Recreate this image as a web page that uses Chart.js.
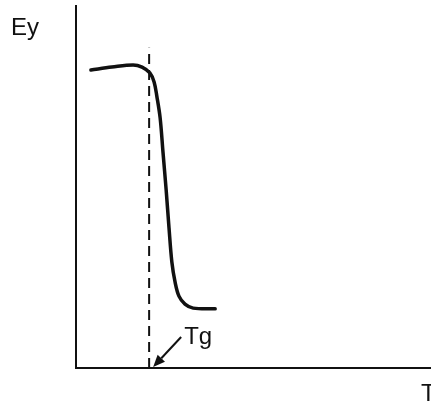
<!DOCTYPE html>
<html>
<head>
<meta charset="utf-8">
<script src="https://cdn.jsdelivr.net/npm/chart.js@4/dist/chart.umd.min.js"></script>
<style>
  html, body { margin: 0; padding: 0; background: #fff; }
  #wrap { width: 431px; height: 406px; }
</style>
</head>
<body>
<div id="wrap"><canvas id="c" width="431" height="406"></canvas></div>
<script>
// Young's modulus (Ey) versus temperature (T), arbitrary units 0–100
const temperature = [4.2, 10.1, 16.1, 18.6, 20.8, 22.0, 22.8, 23.7, 24.5, 25.4, 26.2, 27.0, 27.9, 29.0, 30.7, 33.0, 39.2];
const modulus     = [82.1, 82.9, 83.5, 82.9, 81.3, 78.8, 74.7, 68.9, 59.5, 49.0, 38.6, 29.2, 23.7, 19.8, 17.6, 16.5, 16.3];

// Glass transition temperature marker
const tgValue = 20.6;
const tgLineTop = 88.2;
const tgLabel = 'Tg';
const yTitle = 'Ey';
const xTitle = 'T';

const FONT = '24px "Liberation Sans", Arial, sans-serif';

const annotate = {
  id: 'annotate',
  afterDatasetsDraw(chart) {
    const { ctx, chartArea: a, scales: { x, y } } = chart;
    ctx.save();
    ctx.strokeStyle = '#111';
    ctx.fillStyle = '#111';

    // axes
    ctx.lineWidth = 2;
    ctx.beginPath();
    ctx.moveTo(a.left, a.top);
    ctx.lineTo(a.left, a.bottom);
    ctx.lineTo(a.right, a.bottom);
    ctx.stroke();

    // axis titles
    ctx.font = FONT;
    ctx.textBaseline = 'alphabetic';
    ctx.textAlign = 'left';
    ctx.fillText(yTitle, 11, 35);
    ctx.fillText(xTitle, 421, 401);

    // arrow pointing at Tg on the T axis
    const tipX = x.getPixelForValue(tgValue) + 4;
    const tipY = y.getPixelForValue(0) - 1;
    const tailX = tipX + 28, tailY = tipY - 30;
    const ang = Math.atan2(tipY - tailY, tipX - tailX);
    const hl = 12, hw = 5;
    const bx = tipX - hl * Math.cos(ang), by = tipY - hl * Math.sin(ang);
    ctx.lineWidth = 2;
    ctx.beginPath();
    ctx.moveTo(tailX, tailY);
    ctx.lineTo(bx, by);
    ctx.stroke();
    ctx.beginPath();
    ctx.moveTo(tipX, tipY);
    ctx.lineTo(bx + hw * Math.sin(ang), by - hw * Math.cos(ang));
    ctx.lineTo(bx - hw * Math.sin(ang), by + hw * Math.cos(ang));
    ctx.closePath();
    ctx.fill();

    ctx.fillText(tgLabel, tailX + 3, tailY + 7);
    ctx.restore();
  }
};

new Chart(document.getElementById('c'), {
  type: 'line',
  data: {
    datasets: [
      {
        label: 'Ey',
        data: temperature.map((t, i) => ({ x: t, y: modulus[i] })),
        borderColor: '#111',
        borderWidth: 3.5,
        pointRadius: 0,
        tension: 0.35,
        fill: false,
        borderCapStyle: 'round',
        borderJoinStyle: 'round'
      },
      {
        label: 'Tg',
        data: [{ x: tgValue, y: 0 }, { x: tgValue, y: tgLineTop }],
        borderColor: '#111',
        borderWidth: 2,
        borderDash: [10, 6],
        pointRadius: 0,
        fill: false
      }
    ]
  },
  options: {
    responsive: false,
    animation: false,
    events: [],
    layout: { padding: { left: 76, top: 5, right: 0, bottom: 38 } },
    plugins: { legend: { display: false }, tooltip: { enabled: false } },
    scales: {
      x: { type: 'linear', min: 0, max: 100, display: false },
      y: { type: 'linear', min: 0, max: 100, display: false }
    }
  },
  plugins: [annotate]
});
</script>
</body>
</html>
